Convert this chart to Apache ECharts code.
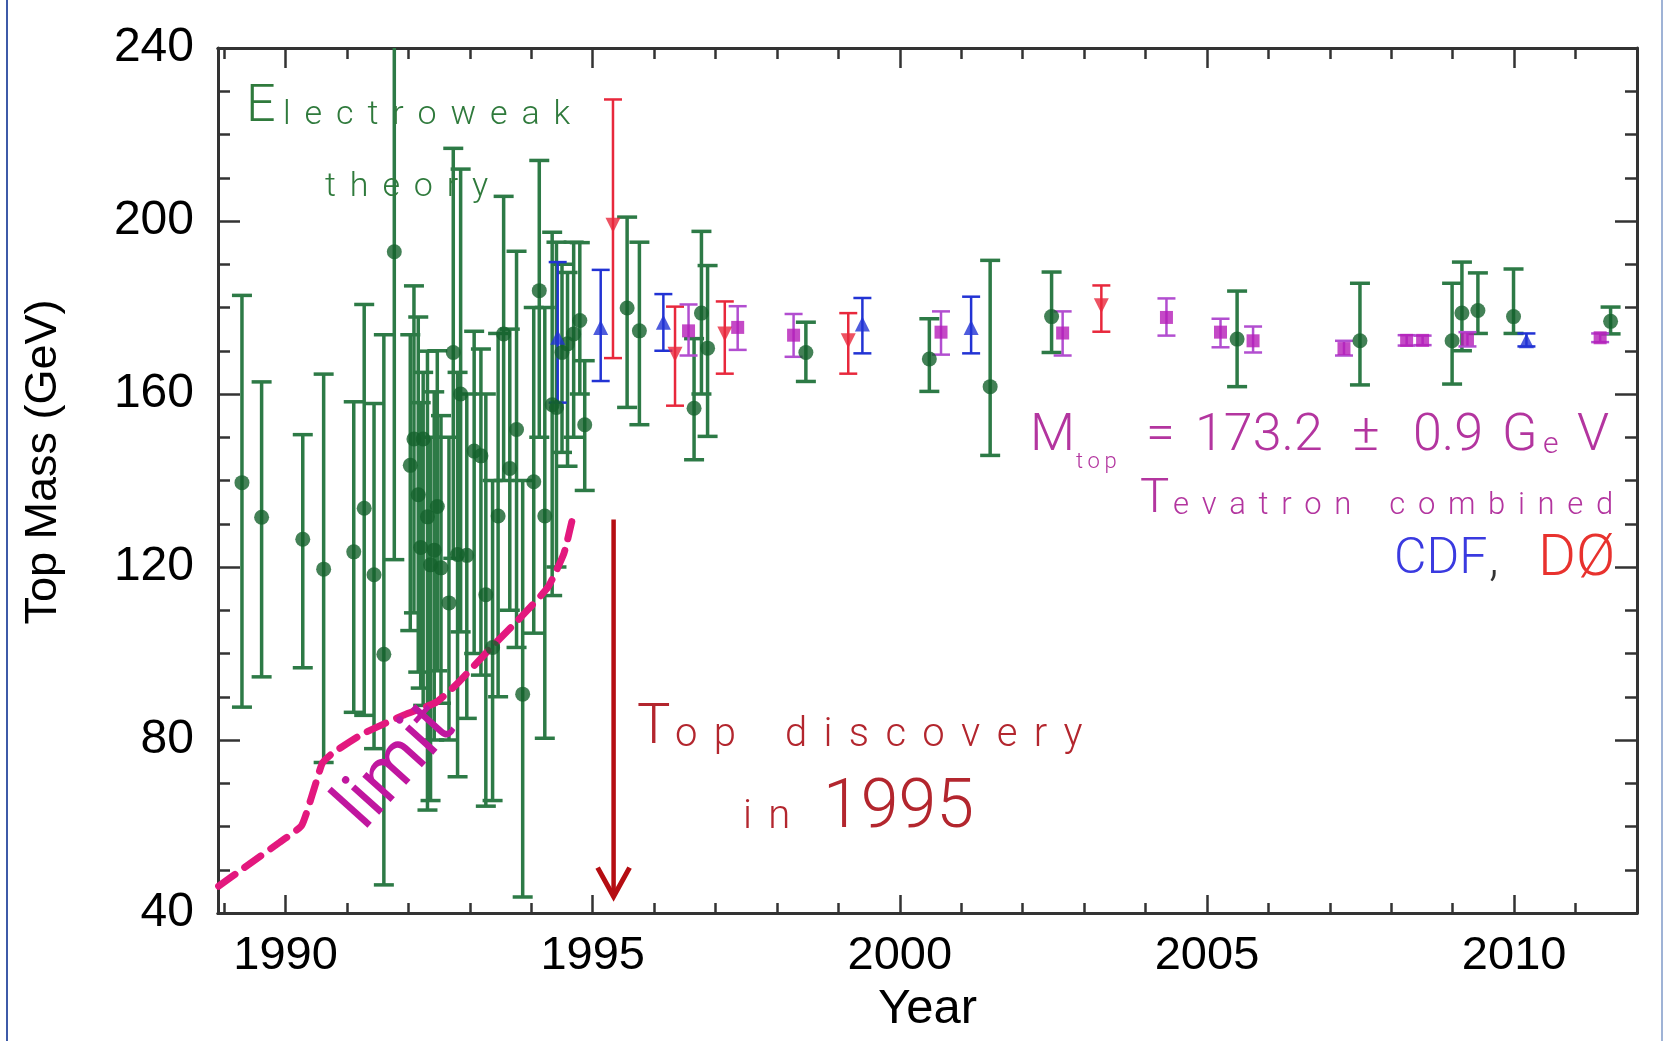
<!DOCTYPE html>
<html>
<head>
<meta charset="utf-8">
<title>Top Mass</title>
<script src="https://cdn.jsdelivr.net/npm/echarts@6.0.0/dist/echarts.min.js"></script>
<style>
  html, body { margin: 0; padding: 0; background: #fff; }
  #charts { width: 1665px; height: 1041px; }
</style>
</head>
<body>
<div id="charts"></div>
<script>
// [year, mass, low, high]  (GeV)
var ewTheory = [
    [1989.29, 139.5, 87.6, 182.8], [1989.61, 131.5, 94.6, 162.8], [1990.28, 126.4, 96.7, 150.6],
    [1990.62, 119.5, 74.8, 164.6], [1991.11, 123.5, 86.4, 158.2], [1991.28, 133.6, 85.7, 180.7],
    [1991.44, 118.2, 78.0, 157.8], [1991.60, 99.8, 46.5, 173.7], [1991.77, 192.9, 121.7, 250],
    [1992.03, 143.5, 105.3, 173.7], [1992.09, 149.6, 109.4, 185.0], [1992.16, 136.7, 95.7, 177.8],
    [1992.20, 124.5, 92.0, 158.0], [1992.24, 149.6, 88.0, 165.0], [1992.31, 131.6, 63.8, 169.9],
    [1992.36, 120.5, 66.0, 150.0], [1992.42, 123.9, 80.0, 160.5], [1992.47, 134.0, 96.0, 170.0],
    [1992.53, 119.8, 88.5, 155.0], [1992.66, 111.7, 80.0, 150.0], [1992.73, 169.6, 122.0, 216.8],
    [1992.80, 122.9, 71.5, 165.0], [1992.85, 160.0, 105.0, 212.0], [1992.95, 122.7, 85.0, 160.0],
    [1993.07, 146.8, 100.0, 174.5], [1993.18, 145.7, 95.0, 170.4], [1993.26, 113.6, 64.7, 160.0],
    [1993.37, 101.4, 66.0, 140.0], [1993.46, 131.8, 90.0, 174.0], [1993.55, 173.9, 140.0, 205.7],
    [1993.65, 142.8, 110.0, 175.0], [1993.76, 151.8, 101.4, 193.0], [1993.86, 90.6, 43.7, 140.0],
    [1994.04, 139.7, 104.7, 180.0], [1994.13, 183.9, 150.0, 214.0], [1994.22, 131.8, 80.4, 180.0],
    [1994.34, 157.5, 113.4, 197.4], [1994.41, 156.9, 120.0, 195.1], [1994.50, 169.6, 146.5, 190.0],
    [1994.59, 171.6, 143.3, 188.1], [1994.69, 173.9, 150.0, 195.1], [1994.79, 177.0, 160.0, 195.0],
    [1994.87, 152.9, 137.7, 167.7], [1995.56, 179.9, 156.9, 200.9], [1995.76, 174.6, 152.9, 195.1],
    [1996.65, 156.7, 144.8, 172.8], [1996.77, 178.7, 160.0, 197.6], [1996.87, 170.6, 150.2, 189.7],
    [1998.47, 169.6, 162.9, 176.6], [2000.48, 168.1, 160.6, 177.4], [2001.47, 161.7, 145.8, 190.9],
    [2002.47, 177.9, 169.6, 188.2], [2005.49, 172.7, 161.7, 183.8], [2007.49, 172.3, 162.1, 185.6],
    [2008.99, 172.3, 162.3, 185.6], [2009.15, 178.7, 170.0, 190.5], [2009.41, 179.3, 174.0, 188.0],
    [2009.99, 177.9, 174.0, 188.9], [2011.57, 176.8, 173.9, 180.1]
];
var cdfData = [
    [1994.43, 173.1, 158.0, 190.5], [1995.13, 175.4, 163.0, 188.7], [1996.15, 176.6, 170.0, 183.1],
    [1999.39, 176.2, 169.4, 182.2], [2001.16, 175.4, 169.4, 182.5], [2010.20, 172.3, 171.0, 174.0]
];
var d0Data = [
    [1995.33, 199.0, 168.3, 228.1], [1996.34, 169.2, 157.3, 180.2], [1997.15, 173.9, 164.7, 181.4],
    [1999.16, 172.3, 164.7, 178.7], [2003.28, 180.4, 174.4, 185.1]
];
var tevCombined = [
    [1996.56, 174.6, 168.9, 180.7], [1997.36, 175.4, 170.2, 180.3], [1998.27, 173.6, 168.6, 178.5],
    [2000.67, 174.3, 169.1, 179.1], [2002.65, 174.1, 168.9, 179.1], [2004.34, 177.7, 173.5, 182.1],
    [2005.22, 174.3, 170.8, 177.4], [2005.75, 172.3, 169.6, 175.6], [2007.23, 170.5, 168.9, 172.3],
    [2008.25, 172.4, 171.2, 173.6], [2008.51, 172.4, 171.3, 173.5], [2009.24, 172.7, 171.0, 174.3],
    [2011.40, 173.0, 172.0, 174.0]
];
// lower limit on the top mass
var limitCurve = [
    [1988.91, 46.2], [1989.34, 50.6], [1989.90, 56.3], [1990.26, 60.2], [1990.47, 69.0],
    [1990.60, 74.7], [1990.76, 76.9], [1991.24, 81.3], [1991.93, 85.8], [1992.45, 88.7],
    [1992.80, 93.1], [1993.32, 101.0], [1993.83, 108.4], [1994.27, 115.3], [1994.53, 123.1],
    [1994.66, 130.5]
];
var arrowShaft = [[1995.34, 131.0], [1995.34, 44.0]];
var arrowHead = [[1995.08, 50.5], [1995.34, 43.8], [1995.60, 50.5]];

var yearTicks = [1990, 1995, 2000, 2005, 2010];
var yearMinor = [1989, 1990, 1991, 1992, 1993, 1994, 1995, 1996, 1997, 1998, 1999, 2000,
    2001, 2002, 2003, 2004, 2005, 2006, 2007, 2008, 2009, 2010, 2011];

var myChart = echarts.init(document.getElementById('charts'));

var FRAME = '#333';
var LABEL_FONT = 'Liberation Sans';
var THIN_FONT = 'Roboto';

/*
 ** vertical error bar with caps
 */
function errorBars(data, color, capW, lw) {
    return {
        type: 'custom',
        clip: true,
        z: 3,
        data: data.map(function (d) { return [d[0], d[2], d[3]]; }),
        encode: { x: 0, y: [1, 2] },
        renderItem: function (params, api) {
            var x = api.value(0);
            var lo = api.coord([x, api.value(1)]);
            var hi = api.coord([x, api.value(2)]);
            var h = capW / 2;
            var st = { stroke: color, lineWidth: lw };
            return {
                type: 'group',
                children: [
                    { type: 'line', shape: { x1: lo[0], y1: lo[1], x2: hi[0], y2: hi[1] }, style: st },
                    { type: 'line', shape: { x1: lo[0] - h, y1: lo[1], x2: lo[0] + h, y2: lo[1] }, style: st },
                    { type: 'line', shape: { x1: hi[0] - h, y1: hi[1], x2: hi[0] + h, y2: hi[1] }, style: st }
                ]
            };
        }
    };
}

function markers(data, symbol, size, color, rotate) {
    return {
        type: 'scatter',
        z: 5,
        symbol: symbol,
        symbolSize: size,
        symbolRotate: rotate || 0,
        itemStyle: { color: color },
        data: data.map(function (d) { return [d[0], d[1]]; })
    };
}

function plain(v) { return String(v); }

function xAxisCfg(pos, ticks, len, withLabels) {
    return {
        type: 'value', position: pos, min: 1988.9, max: 2012,
        axisLine: { show: true, onZero: false, lineStyle: { color: FRAME, width: 3 } },
        axisTick: { show: true, inside: true, length: len, customValues: ticks, lineStyle: { color: FRAME, width: 2.5 } },
        axisLabel: withLabels ? { customValues: ticks, formatter: plain, fontSize: 47, color: '#000', fontFamily: LABEL_FONT, margin: 20 } : { show: false },
        splitLine: { show: false }
    };
}

function yAxisCfg(pos, withLabels) {
    return {
        type: 'value', position: pos, min: 40, max: 240, interval: 40,
        axisLine: { show: true, onZero: false, lineStyle: { color: FRAME, width: 3 } },
        axisTick: { show: true, inside: true, length: 22, lineStyle: { color: FRAME, width: 2.5 } },
        minorTick: { show: true, splitNumber: 4, length: 12, lineStyle: { color: FRAME, width: 2.5 } },
        axisLabel: withLabels ? { formatter: plain, fontSize: 48, color: '#000', fontFamily: LABEL_FONT, margin: 24 } : { show: false },
        splitLine: { show: false }
    };
}

function txt(text, x, y, size, color, opt) {
    opt = opt || {};
    return {
        type: 'text', x: x, y: y, rotation: opt.rotation || 0, z: 20,
        style: {
            text: text, fill: color,
            font: (opt.weight || 300) + ' ' + size + 'px ' + (opt.family || THIN_FONT),
            textAlign: opt.align || 'left', textVerticalAlign: 'middle'
        }
    };
}

// letter-spaced words, like the slide's small caps
var SP = '\u2009\u2009';
function spaced(words) {
    return words.map(function (w) { return w.split('').join(SP); }).join(SP + SP + SP);
}

var GREEN_TXT = '#2f7a3c';
var RED_TXT = '#b3262e';
var MAG_TXT = '#b3359f';

var xMain = xAxisCfg('bottom', yearTicks, 18, true);
xMain.name = 'Year';
xMain.nameLocation = 'middle';
xMain.nameGap = 70;
xMain.nameTextStyle = { fontSize: 49, color: '#000', fontFamily: LABEL_FONT };

var option = {
    backgroundColor: '#fff',
    animation: false,
    grid: { left: 218, right: 28, top: 48, bottom: 128 },
    xAxis: [xMain, xAxisCfg('bottom', yearMinor, 10, false), xAxisCfg('top', yearTicks, 20, false), xAxisCfg('top', yearMinor, 11, false)],
    yAxis: [yAxisCfg('left', true), yAxisCfg('right', false)],
    series: [
        {
            type: 'line', data: limitCurve, smooth: 0.15, symbol: 'none', z: 4,
            lineStyle: { color: '#e3187e', width: 7, type: [20, 12], cap: 'round' }
        },
        errorBars(ewTheory, '#2d7a46', 20, 3.5),
        errorBars(cdfData, '#2233d4', 18, 2.5),
        errorBars(d0Data, '#e8283c', 18, 2.5),
        errorBars(tevCombined, '#b24ed0', 18, 2.5),
        markers(ewTheory, 'circle', 15, '#14612c'),
        markers(cdfData, 'triangle', 15, '#2233d4'),
        markers(d0Data, 'triangle', 15, '#e8283c', 180),
        markers(tevCombined, 'rect', 13, '#b51db8'),
        { type: 'line', data: arrowShaft, symbol: 'none', z: 6, lineStyle: { color: '#b50d12', width: 4.5 } },
        { type: 'line', data: arrowHead, symbol: 'none', z: 6, lineStyle: { color: '#b50d12', width: 5, join: 'miter' } }
    ],
    graphic: [
        { type: 'line', shape: { x1: 7, y1: 0, x2: 7, y2: 1041 }, style: { stroke: '#3e5aa8', lineWidth: 2 } },
        { type: 'line', shape: { x1: 1662, y1: 0, x2: 1662, y2: 1041 }, style: { stroke: '#9fb3d6', lineWidth: 2 } },

        txt('Top Mass (GeV)', 44, 462, 45, '#000', { rotation: Math.PI / 2, align: 'center', weight: 400, family: LABEL_FONT }),

        txt('E', 246, 108, 52, GREEN_TXT),
        txt(spaced(['lectroweak']), 283, 115, 34, GREEN_TXT),
        txt(spaced(['theory']), 325, 187, 34, GREEN_TXT),

        txt('limit', 397, 768, 72, '#c0169f', { rotation: 48 * Math.PI / 180, align: 'center', weight: 400 }),

        txt('T', 637, 729, 56, RED_TXT),
        txt(spaced(['op', 'discovery']), 675, 736, 40, RED_TXT),
        txt(spaced(['in']), 743, 818, 40, RED_TXT),
        txt('1995', 823, 810, 68, RED_TXT),

        txt('M', 1030, 437, 52, MAG_TXT),
        txt(['t', 'o', 'p'].join('\u2009'), 1076, 462, 22, MAG_TXT),
        txt('=', 1146, 437, 52, MAG_TXT),
        txt('173.2', 1195, 437, 52, MAG_TXT),
        txt('\u00b1', 1352, 437, 52, MAG_TXT),
        txt('0.9', 1413, 437, 52, MAG_TXT),
        txt('G', 1502, 437, 52, MAG_TXT),
        txt('e', 1543, 445, 30, MAG_TXT),
        txt('V', 1577, 437, 52, MAG_TXT),

        txt('T', 1140, 500, 49, MAG_TXT),
        txt(spaced(['evatron', 'combined']), 1173, 506, 31, MAG_TXT),

        txt('CDF', 1394, 560, 50, '#3a3ae0'),
        txt(',', 1489, 562, 50, '#333'),
        txt('D\u00d8', 1538, 560, 58, '#e8322e')
    ]
};

myChart.setOption(option);
</script>
</body>
</html>
